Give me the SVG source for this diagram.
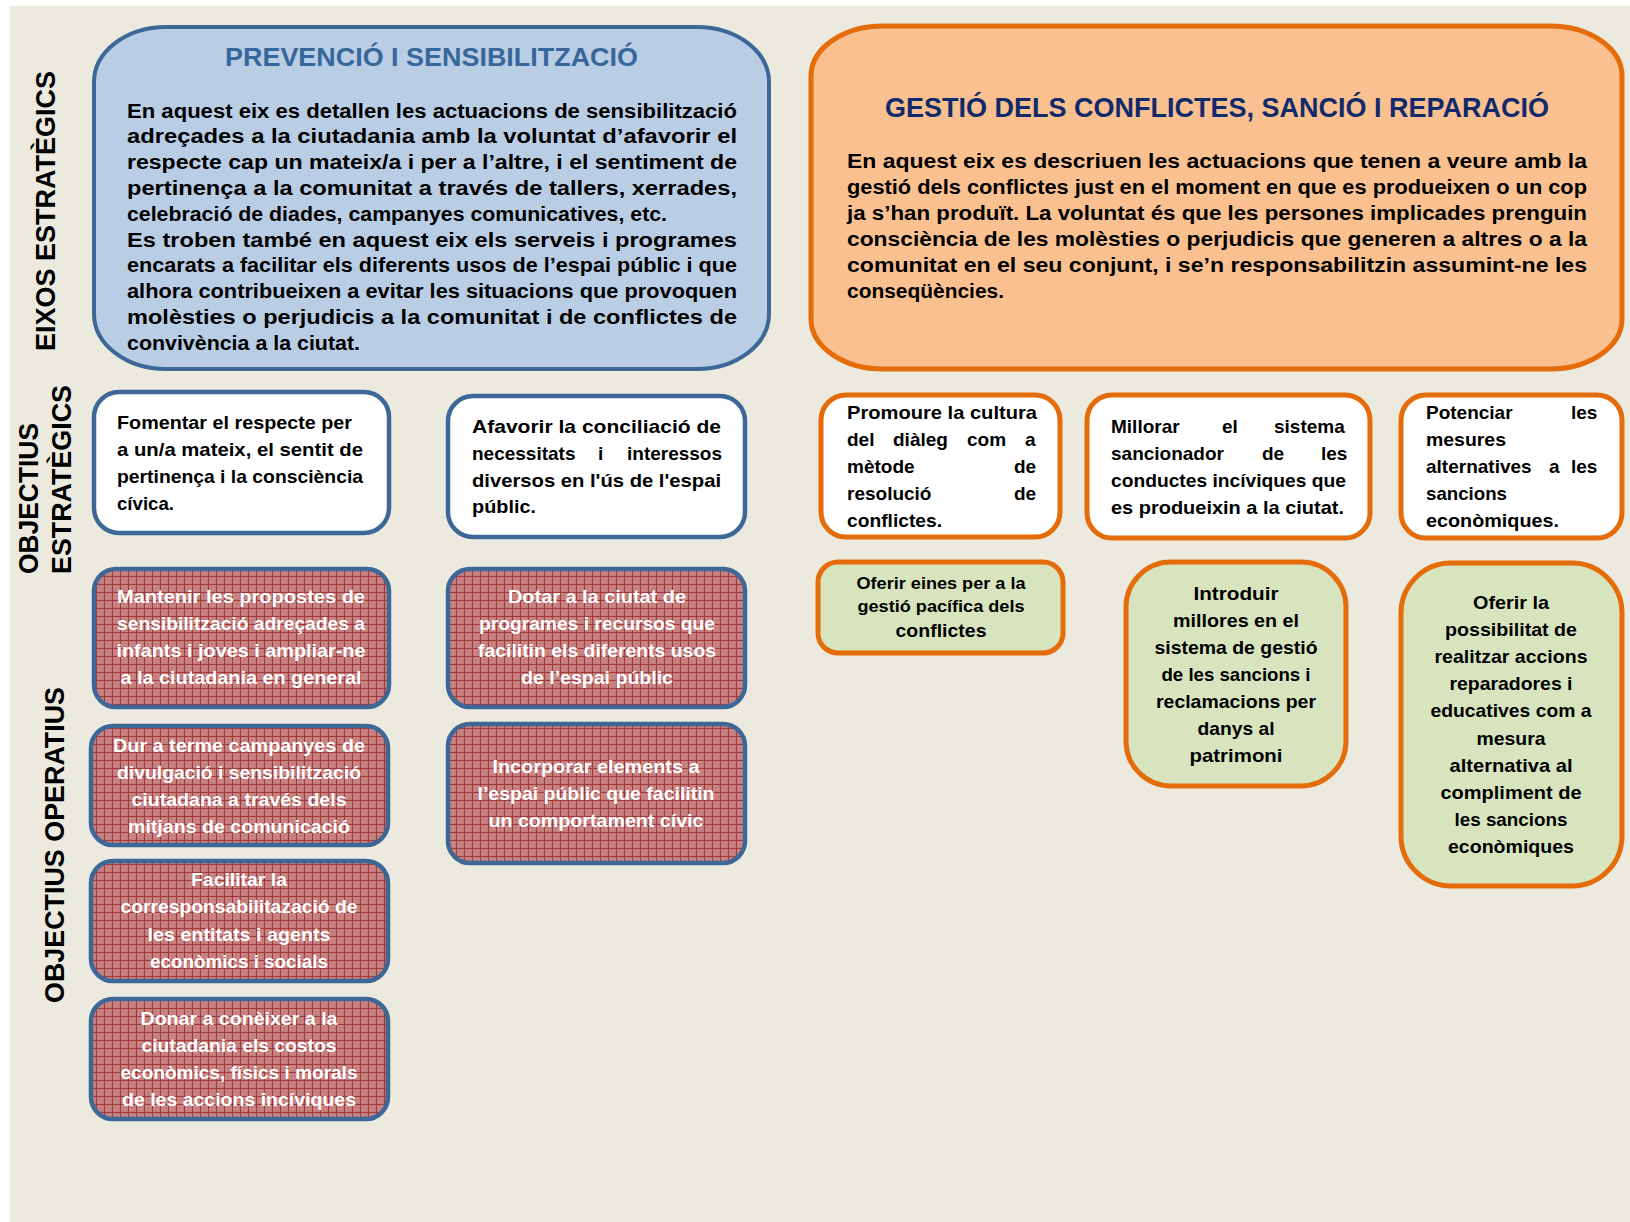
<svg xmlns="http://www.w3.org/2000/svg" width="1630" height="1222" viewBox="0 0 1630 1222">
<style>
text{font-family:"Liberation Sans",Arial,sans-serif;font-weight:bold;fill:#000}
.n{font-size:20px}
.c{font-size:19px}
.w{fill:#fff}
.m{text-anchor:middle}
.lbl{font-size:27px}
.axb{fill:#B9CDE5;stroke:#3D6797;stroke-width:4}
.axo{fill:#FAC08F;stroke:#E46C0A;stroke-width:5}
.wb{fill:#fff;stroke:#3D6797;stroke-width:4.5}
.wo{fill:#fff;stroke:#E46C0A;stroke-width:5}
.rd{fill:url(#grid);stroke:#3D6797;stroke-width:4.5}
.gr{fill:#D7E4BD;stroke:#E46C0A;stroke-width:5}
</style>
<defs>
<pattern id="grid" width="8" height="8" patternUnits="userSpaceOnUse">
<rect width="8" height="8" fill="#C47C7C"/>
<path d="M2 2h1v1h-1zM5 2h1v1h-1zM2 5h1v1h-1zM5 5h1v1h-1z" fill="#D9A3A3"/>
<path d="M0 0.5H8M0.5 0V8" stroke="#A13A3B" stroke-width="1"/>
</pattern>
</defs>
<rect x="0" y="0" width="1630" height="1222" fill="#fff"/>
<rect x="10" y="6" width="1620" height="1216" fill="#ECEADF"/>

<g id="labels">
<text class="lbl" transform="translate(55,351) rotate(-90)" textLength="280" lengthAdjust="spacingAndGlyphs">EIXOS ESTRATÈGICS</text>
<text class="lbl" transform="translate(38,574) rotate(-90)" textLength="151" lengthAdjust="spacingAndGlyphs">OBJECTIUS</text>
<text class="lbl" transform="translate(71,574) rotate(-90)" textLength="189" lengthAdjust="spacingAndGlyphs">ESTRATÈGICS</text>
<text class="lbl" transform="translate(64,1003) rotate(-90)" textLength="316" lengthAdjust="spacingAndGlyphs">OBJECTIUS OPERATIUS</text>
</g>

<g id="eix-prevencio">
<rect class="axb" x="94" y="27" width="675" height="342" rx="72" ry="55"/>
<text x="225" y="66" style="font-size:25px;fill:#37679A" textLength="413" lengthAdjust="spacingAndGlyphs">PREVENCIÓ I SENSIBILITZACIÓ</text>
<text class="n" x="127" y="117.5" textLength="610" lengthAdjust="spacingAndGlyphs">En aquest eix es detallen les actuacions de sensibilització</text>
<text class="n" x="127" y="143.3" textLength="610" lengthAdjust="spacingAndGlyphs">adreçades a la ciutadania amb la voluntat d’afavorir el</text>
<text class="n" x="127" y="169.1" textLength="610" lengthAdjust="spacingAndGlyphs">respecte cap un mateix/a i per a l’altre, i el sentiment de</text>
<text class="n" x="127" y="194.9" textLength="610" lengthAdjust="spacingAndGlyphs">pertinença a la comunitat a través de tallers, xerrades,</text>
<text class="n" x="127" y="220.7" textLength="540" lengthAdjust="spacingAndGlyphs">celebració de diades, campanyes comunicatives, etc.</text>
<text class="n" x="127" y="246.5" textLength="610" lengthAdjust="spacingAndGlyphs">Es troben també en aquest eix els serveis i programes</text>
<text class="n" x="127" y="272.3" textLength="610" lengthAdjust="spacingAndGlyphs">encarats a facilitar els diferents usos de l’espai públic i que</text>
<text class="n" x="127" y="298.1" textLength="610" lengthAdjust="spacingAndGlyphs">alhora contribueixen a evitar les situacions que provoquen</text>
<text class="n" x="127" y="323.9" textLength="610" lengthAdjust="spacingAndGlyphs">molèsties o perjudicis a la comunitat i de conflictes de</text>
<text class="n" x="127" y="349.7" textLength="233" lengthAdjust="spacingAndGlyphs">convivència a la ciutat.</text>
</g>

<g id="eix-gestio">
<rect class="axo" x="811" y="26" width="811" height="343" rx="72" ry="50"/>
<text x="885" y="117" style="font-size:28px;fill:#102A6B" textLength="664" lengthAdjust="spacingAndGlyphs">GESTIÓ DELS CONFLICTES, SANCIÓ I REPARACIÓ</text>
<text class="n" x="847" y="168" textLength="740" lengthAdjust="spacingAndGlyphs">En aquest eix es descriuen les actuacions que tenen a veure amb la</text>
<text class="n" x="847" y="194" textLength="740" lengthAdjust="spacingAndGlyphs">gestió dels conflictes just en el moment en que es produeixen o un cop</text>
<text class="n" x="847" y="220" textLength="740" lengthAdjust="spacingAndGlyphs">ja s’han produït. La voluntat és que les persones implicades prenguin</text>
<text class="n" x="847" y="246" textLength="740" lengthAdjust="spacingAndGlyphs">consciència de les molèsties o perjudicis que generen a altres o a la</text>
<text class="n" x="847" y="272" textLength="740" lengthAdjust="spacingAndGlyphs">comunitat en el seu conjunt, i se’n responsabilitzin assumint-ne les</text>
<text class="n" x="847" y="298" textLength="157" lengthAdjust="spacingAndGlyphs">conseqüències.</text>
</g>

<g id="oe-fomentar">
<rect class="wb" x="94" y="392" width="295" height="141" rx="25"/>
<text class="c" x="117" y="429" textLength="235" lengthAdjust="spacingAndGlyphs">Fomentar el respecte per</text>
<text class="c" x="117" y="456" textLength="246" lengthAdjust="spacingAndGlyphs">a un/a mateix, el sentit de</text>
<text class="c" x="117" y="483" textLength="246" lengthAdjust="spacingAndGlyphs">pertinença i la consciència</text>
<text class="c" x="117" y="510" textLength="57" lengthAdjust="spacingAndGlyphs">cívica.</text>
</g>

<g id="oe-afavorir">
<rect class="wb" x="448" y="396" width="297" height="141" rx="25"/>
<text class="c" x="472" y="433" textLength="249" lengthAdjust="spacingAndGlyphs">Afavorir la conciliació de</text>
<text class="c" y="460"><tspan x="472">necessitats </tspan><tspan x="598">i </tspan><tspan x="627">interessos</tspan></text>
<text class="c" x="472" y="487" textLength="249" lengthAdjust="spacingAndGlyphs">diversos en l'ús de l'espai</text>
<text class="c" x="472" y="513" textLength="64" lengthAdjust="spacingAndGlyphs">públic.</text>
</g>

<g id="op-mantenir">
<rect class="rd" x="94" y="569" width="295" height="138" rx="22"/>
<text class="c w m" x="241" y="603" textLength="248" lengthAdjust="spacingAndGlyphs">Mantenir les propostes de</text>
<text class="c w m" x="241" y="630" textLength="248" lengthAdjust="spacingAndGlyphs">sensibilització adreçades a</text>
<text class="c w m" x="241" y="657" textLength="249" lengthAdjust="spacingAndGlyphs">infants i joves i ampliar-ne</text>
<text class="c w m" x="241" y="684" textLength="241" lengthAdjust="spacingAndGlyphs">a la ciutadania en general</text>
</g>

<g id="op-dotar">
<rect class="rd" x="448" y="569" width="297" height="138" rx="22"/>
<text class="c w m" x="597" y="603" textLength="178" lengthAdjust="spacingAndGlyphs">Dotar a la ciutat de</text>
<text class="c w m" x="597" y="630" textLength="236" lengthAdjust="spacingAndGlyphs">programes i recursos que</text>
<text class="c w m" x="597" y="657" textLength="238" lengthAdjust="spacingAndGlyphs">facilitin els diferents usos</text>
<text class="c w m" x="597" y="684" textLength="152" lengthAdjust="spacingAndGlyphs">de l’espai públic</text>
</g>

<g id="op-campanyes">
<rect class="rd" x="91" y="726" width="297" height="119" rx="22"/>
<text class="c w m" x="239" y="752" textLength="252" lengthAdjust="spacingAndGlyphs">Dur a terme campanyes de</text>
<text class="c w m" x="239" y="779" textLength="244" lengthAdjust="spacingAndGlyphs">divulgació i sensibilització</text>
<text class="c w m" x="239" y="806" textLength="215" lengthAdjust="spacingAndGlyphs">ciutadana a través dels</text>
<text class="c w m" x="239" y="833" textLength="222" lengthAdjust="spacingAndGlyphs">mitjans de comunicació</text>
</g>

<g id="op-facilitar">
<rect class="rd" x="91" y="861" width="297" height="120" rx="22"/>
<text class="c w m" x="239" y="886" textLength="96" lengthAdjust="spacingAndGlyphs">Facilitar la</text>
<text class="c w m" x="239" y="913" textLength="237" lengthAdjust="spacingAndGlyphs">corresponsabilitazació de</text>
<text class="c w m" x="239" y="941" textLength="183" lengthAdjust="spacingAndGlyphs">les entitats i agents</text>
<text class="c w m" x="239" y="968" textLength="178" lengthAdjust="spacingAndGlyphs">econòmics i socials</text>
</g>

<g id="op-donar">
<rect class="rd" x="91" y="999" width="297" height="120" rx="22"/>
<text class="c w m" x="239" y="1025" textLength="197" lengthAdjust="spacingAndGlyphs">Donar a conèixer a la</text>
<text class="c w m" x="239" y="1052" textLength="195" lengthAdjust="spacingAndGlyphs">ciutadania els costos</text>
<text class="c w m" x="239" y="1079" textLength="237" lengthAdjust="spacingAndGlyphs">econòmics, físics i morals</text>
<text class="c w m" x="239" y="1106" textLength="234" lengthAdjust="spacingAndGlyphs">de les accions incíviques</text>
</g>

<g id="op-incorporar">
<rect class="rd" x="448" y="724" width="297" height="139" rx="22"/>
<text class="c w m" x="596" y="773" textLength="207" lengthAdjust="spacingAndGlyphs">Incorporar elements a</text>
<text class="c w m" x="596" y="800" textLength="237" lengthAdjust="spacingAndGlyphs">l’espai públic que facilitin</text>
<text class="c w m" x="596" y="827" textLength="215" lengthAdjust="spacingAndGlyphs">un comportament cívic</text>
</g>

<g id="oe-promoure">
<rect class="wo" x="821" y="395" width="239" height="142" rx="25"/>
<text class="c" x="847" y="419" textLength="190" lengthAdjust="spacingAndGlyphs">Promoure la cultura</text>
<text class="c" y="446"><tspan x="847">del </tspan><tspan x="893">diàleg </tspan><tspan x="967">com </tspan><tspan x="1025">a</tspan></text>
<text class="c" y="473"><tspan x="847">mètode </tspan><tspan x="1014">de</tspan></text>
<text class="c" y="500"><tspan x="847">resolució </tspan><tspan x="1014">de</tspan></text>
<text class="c" x="847" y="527" textLength="95" lengthAdjust="spacingAndGlyphs">conflictes.</text>
</g>

<g id="oe-millorar">
<rect class="wo" x="1087" y="395" width="283" height="143" rx="25"/>
<text class="c" y="433"><tspan x="1111">Millorar </tspan><tspan x="1222">el </tspan><tspan x="1274">sistema</tspan></text>
<text class="c" y="460"><tspan x="1111">sancionador </tspan><tspan x="1262">de </tspan><tspan x="1321">les</tspan></text>
<text class="c" x="1111" y="487" textLength="235" lengthAdjust="spacingAndGlyphs">conductes incíviques que</text>
<text class="c" x="1111" y="514" textLength="233" lengthAdjust="spacingAndGlyphs">es produeixin a la ciutat.</text>
</g>

<g id="oe-potenciar">
<rect class="wo" x="1401" y="395" width="221" height="143" rx="25"/>
<text class="c" y="419"><tspan x="1426">Potenciar </tspan><tspan x="1571">les</tspan></text>
<text class="c" x="1426" y="446" textLength="80" lengthAdjust="spacingAndGlyphs">mesures</text>
<text class="c" y="473"><tspan x="1426">alternatives </tspan><tspan x="1549">a </tspan><tspan x="1571">les</tspan></text>
<text class="c" x="1426" y="500" textLength="81" lengthAdjust="spacingAndGlyphs">sancions</text>
<text class="c" x="1426" y="527" textLength="133" lengthAdjust="spacingAndGlyphs">econòmiques.</text>
</g>

<g id="op-oferir-eines">
<rect class="gr" x="818" y="562" width="245" height="91" rx="20"/>
<text class="m" x="941" y="589" style="font-size:17px" textLength="169" lengthAdjust="spacingAndGlyphs">Oferir eines per a la</text>
<text class="m" x="941" y="612" style="font-size:17px" textLength="167" lengthAdjust="spacingAndGlyphs">gestió pacífica dels</text>
<text class="m" x="941" y="637" style="font-size:19px" textLength="91" lengthAdjust="spacingAndGlyphs">conflictes</text>
</g>

<g id="op-introduir">
<rect class="gr" x="1126" y="562" width="220" height="224" rx="45"/>
<text class="c m" x="1236" y="600" textLength="85" lengthAdjust="spacingAndGlyphs">Introduir</text>
<text class="c m" x="1236" y="627" textLength="126" lengthAdjust="spacingAndGlyphs">millores en el</text>
<text class="c m" x="1236" y="654" textLength="163" lengthAdjust="spacingAndGlyphs">sistema de gestió</text>
<text class="c m" x="1236" y="681" textLength="149" lengthAdjust="spacingAndGlyphs">de les sancions i</text>
<text class="c m" x="1236" y="708" textLength="160" lengthAdjust="spacingAndGlyphs">reclamacions per</text>
<text class="c m" x="1236" y="735" textLength="77" lengthAdjust="spacingAndGlyphs">danys al</text>
<text class="c m" x="1236" y="762" textLength="93" lengthAdjust="spacingAndGlyphs">patrimoni</text>
</g>

<g id="op-oferir-possibilitat">
<rect class="gr" x="1401" y="563" width="221" height="323" rx="50"/>
<text class="c m" x="1511" y="609" textLength="76" lengthAdjust="spacingAndGlyphs">Oferir la</text>
<text class="c m" x="1511" y="636" textLength="132" lengthAdjust="spacingAndGlyphs">possibilitat de</text>
<text class="c m" x="1511" y="663" textLength="153" lengthAdjust="spacingAndGlyphs">realitzar accions</text>
<text class="c m" x="1511" y="690" textLength="123" lengthAdjust="spacingAndGlyphs">reparadores i</text>
<text class="c m" x="1511" y="717" textLength="161" lengthAdjust="spacingAndGlyphs">educatives com a</text>
<text class="c m" x="1511" y="745" textLength="69" lengthAdjust="spacingAndGlyphs">mesura</text>
<text class="c m" x="1511" y="772" textLength="123" lengthAdjust="spacingAndGlyphs">alternativa al</text>
<text class="c m" x="1511" y="799" textLength="141" lengthAdjust="spacingAndGlyphs">compliment de</text>
<text class="c m" x="1511" y="826" textLength="113" lengthAdjust="spacingAndGlyphs">les sancions</text>
<text class="c m" x="1511" y="853" textLength="126" lengthAdjust="spacingAndGlyphs">econòmiques</text>
</g>

<g id="connectors"></g>
</svg>
